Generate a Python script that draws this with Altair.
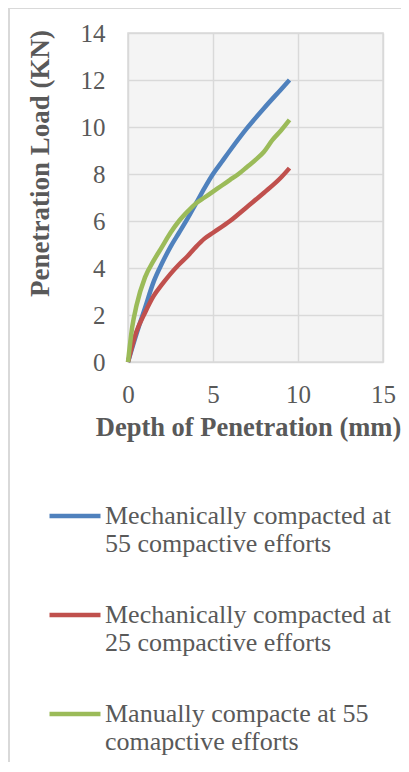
import altair as alt
import pandas as pd

series_names = [
    "Mechanically compacted at 55 compactive efforts",
    "Mechanically compacted at 25 compactive efforts",
    "Manually compacte at 55 comapctive efforts",
]
colors = ["#4F81BD", "#C0504D", "#9BBB59"]

blue_x = [0, 0.5, 1, 1.5, 2, 2.5, 3, 3.5, 4, 4.5, 5, 5.5, 6, 7, 8, 9, 9.5]
blue_y = [0, 1.2, 2.3, 3.4, 4.2, 4.9, 5.5, 6.1, 6.75, 7.4, 8.0, 8.5, 9.0, 9.95, 10.8, 11.6, 12.0]

red_x = [0, 0.5, 1, 1.5, 2, 2.5, 3, 3.5, 4, 4.5, 5, 6, 7, 8, 9, 9.5]
red_y = [0, 1.3, 2.1, 2.8, 3.3, 3.75, 4.15, 4.5, 4.9, 5.25, 5.5, 6.0, 6.6, 7.2, 7.85, 8.25]

green_x = [0, 0.25, 0.5, 1, 1.5, 2, 2.5, 3, 3.5, 4, 4.5, 5, 5.5, 6, 6.5, 7, 7.5, 8, 8.5, 9, 9.5]
green_y = [0, 1.5, 2.4, 3.6, 4.3, 4.9, 5.5, 6.0, 6.4, 6.75, 7.0, 7.25, 7.5, 7.75, 8.0, 8.3, 8.6, 8.95, 9.45, 9.85, 10.3]

x_ticks = [0, 5, 10, 15]
y_ticks = [0, 2, 4, 6, 8, 10, 12, 14]

rows = []
for name, xs, ys in zip(series_names, [blue_x, red_x, green_x], [blue_y, red_y, green_y]):
    for i, (a, b) in enumerate(zip(xs, ys)):
        rows.append({"series": name, "depth": a, "load": b, "order": i})
df = pd.DataFrame(rows)

label_expr = (
    "datum.label == 'Mechanically compacted at 55 compactive efforts' ? ['Mechanically compacted at', '55 compactive efforts'] : "
    "datum.label == 'Mechanically compacted at 25 compactive efforts' ? ['Mechanically compacted at', '25 compactive efforts'] : "
    "['Manually compacte at 55', 'comapctive efforts']"
)

FONT = "Liberation Serif"
GREY = "#595959"

lines = alt.Chart(df).mark_line(strokeWidth=4.5, interpolate="monotone").encode(
    x=alt.X("depth:Q",
            scale=alt.Scale(domain=[0, 15], nice=False),
            axis=alt.Axis(values=x_ticks, title="Depth of Penetration (mm)",
                          domain=False, ticks=False, labelFontSize=25, labelFont=FONT,
                          labelColor=GREY, labelPadding=20, labelFlush=False,
                          gridColor="#d9d9d9", gridWidth=1.5,
                          titleFont=FONT, titleFontSize=26.5, titleFontWeight="bold", titleColor=GREY,
                          titleX=120, titleY=52, titleBaseline="top", titleAnchor="start",
                          titleAlign="center")),
    y=alt.Y("load:Q",
            scale=alt.Scale(domain=[0, 14], nice=False),
            axis=alt.Axis(values=y_ticks, title="Penetration Load (KN)",
                          domain=False, ticks=False, labelFontSize=25, labelFont=FONT,
                          labelColor=GREY, labelPadding=23, gridColor="#d9d9d9", gridWidth=1.5,
                          titleFont=FONT, titleFontSize=27, titleFontWeight="bold", titleColor=GREY,
                          titleX=-88, titleY=130, titleBaseline="middle", titleAlign="center",
                          titleAngle=-90, titleAnchor="start")),
    color=alt.Color("series:N",
                    scale=alt.Scale(domain=series_names, range=colors),
                    legend=alt.Legend(orient="none", legendX=-81, legendY=455, title=None,
                                      symbolType="stroke", symbolSize=2600, symbolStrokeWidth=4.5,
                                      labelFont=FONT, labelFontSize=26, labelColor=GREY,
                                      labelLimit=400, labelOffset=2, labelExpr=label_expr,
                                      rowPadding=30, padding=0, labelBaseline="middle")),
    order="order:Q",
)

frame_left = alt.Chart(df).mark_rule(color="#d9d9d9", strokeWidth=1.5).encode(
    x=alt.value(-119), y=alt.value(-25), y2=alt.value(740))
frame_top = alt.Chart(df).mark_rule(color="#d9d9d9", strokeWidth=1.5).encode(
    x=alt.value(-119), x2=alt.value(285), y=alt.value(-25))

chart = alt.layer(frame_left, frame_top, lines).properties(
    width=255, height=329,
    autosize=alt.AutoSizeParams(type="none"),
    padding={"left": 120, "top": 25, "right": 18, "bottom": 400},
).configure_view(
    fill="#f4f4f4", stroke="#d9d9d9", strokeWidth=1.5
)

chart.save("out.html", embed_options={"renderer": "svg", "actions": False})
